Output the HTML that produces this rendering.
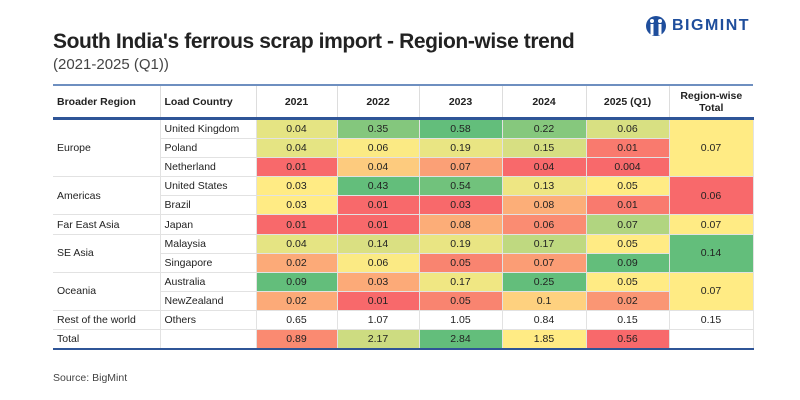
<!DOCTYPE html>
<html><head><meta charset="utf-8"><style>
body{margin:0;width:800px;height:400px;background:#fff;font-family:"Liberation Sans",sans-serif;position:relative;overflow:hidden}
#title{position:absolute;left:53px;top:30px;font-size:21px;font-weight:bold;color:#222;letter-spacing:-0.4px}
#sub{position:absolute;left:53px;top:56px;font-size:15px;color:#444}
#logo{position:absolute;left:645px;top:14px;height:24px;display:flex;align-items:center;color:#1f4e9c;font-weight:bold;font-size:16px;letter-spacing:1.5px}
table{position:absolute;left:53px;top:84px;border-collapse:collapse;font-size:10.5px;color:#222;table-layout:fixed;width:700px}
th{font-weight:bold;font-size:10.5px;height:31px;padding:0;border-top:2px solid #6e8fc0;border-bottom:3px solid #2f5597;border-left:1px solid #ddd}
th:first-child{border-left:none;text-align:left;padding-left:4px}
th.lc{text-align:left;padding-left:4px}
td{height:18.1px;padding:0;text-align:center;border:1px solid #e2e2e2}
td.l{text-align:left;padding-left:4px;border-left:none}
tr.last td{border-bottom:2px solid #2f5597}
#src{position:absolute;left:53px;top:372px;font-size:10.5px;color:#444}
</style></head><body>
<div id="title">South India's ferrous scrap import - Region-wise trend</div>
<div id="sub">(2021-2025 (Q1))</div>
<div id="logo"><svg width="22" height="24" viewBox="0 0 22 24"><circle cx="11" cy="12" r="10" fill="#1f4e9c"/><circle cx="7" cy="7" r="2" fill="#fff"/><circle cx="15" cy="7" r="2" fill="#fff"/><rect x="5.5" y="10" width="3" height="11" fill="#fff"/><rect x="13.5" y="10" width="3" height="11" fill="#fff"/></svg><span style="margin-left:5px">BIGMINT</span></div>
<table id="tbl">
<colgroup><col style="width:107px"><col style="width:96px"><col style="width:81px"><col style="width:82px"><col style="width:83px"><col style="width:84px"><col style="width:83px"><col style="width:84px"></colgroup>
<thead><tr><th>Broader Region</th><th class="lc">Load Country</th><th>2021</th><th>2022</th><th>2023</th><th>2024</th><th>2025 (Q1)</th><th>Region-wise<br>Total</th></tr></thead>
<tbody id="tb"></tbody></table>
<div id="src">Source: BigMint</div>
<script>
const regions=["Europe","Americas","Far East Asia","SE Asia","Oceania","Rest of the world"];
const regionSpans=[3,2,1,2,2,1];
const countries=["United Kingdom","Poland","Netherland","United States","Brazil","Japan","Malaysia","Singapore","Australia","NewZealand","Others"];
const y2021=["0.04","0.04","0.01","0.03","0.03","0.01","0.04","0.02","0.09","0.02","0.65"];
const y2022=["0.35","0.06","0.04","0.43","0.01","0.01","0.14","0.06","0.03","0.01","1.07"];
const y2023=["0.58","0.19","0.07","0.54","0.03","0.08","0.19","0.05","0.17","0.05","1.05"];
const y2024=["0.22","0.15","0.04","0.13","0.08","0.06","0.17","0.07","0.25","0.1","0.84"];
const y2025=["0.06","0.01","0.004","0.05","0.01","0.07","0.05","0.09","0.05","0.02","0.15"];
const regionTotals=["0.07","0.06","0.07","0.14","0.07","0.15"];
const totals=["0.89","2.17","2.84","1.85","0.56"];
const cols=[y2021,y2022,y2023,y2024,y2025];
const R=[248,105,107],Y=[255,235,132],G=[99,190,123];
function median(a){const s=a.slice().sort((x,y)=>x-y);const m=s.length>>1;return s.length%2?s[m]:(s[m-1]+s[m])/2;}
function scale(vals){const n=vals.map(Number),mn=Math.min(...n),mx=Math.max(...n),md=median(n);
 return n.map(v=>{let a,b,t;if(v<=md){a=R;b=Y;t=md>mn?(v-mn)/(md-mn):1}else{a=Y;b=G;t=mx>md?(v-md)/(mx-md):0}
 return 'rgb('+a.map((c,i)=>Math.round(c+(b[i]-c)*t)).join(',')+')';});}
const colColors=cols.map(c=>scale(c.slice(0,10)));
const rtColors=scale(regionTotals.slice(0,5));
const totColors=scale(totals);
const tb=document.getElementById('tb');
let ri=0,rowInReg=0;
for(let i=0;i<countries.length;i++){
 const tr=document.createElement('tr');
 
 
 if(rowInReg===0){const td=document.createElement('td');td.className='l';td.rowSpan=regionSpans[ri];td.textContent=regions[ri];
  
  
  tr.appendChild(td);}
 const c=document.createElement('td');c.className='l';c.textContent=countries[i];
 
 
 tr.appendChild(c);
 for(let j=0;j<5;j++){const td=document.createElement('td');td.textContent=cols[j][i];
  if(i<10)td.style.background=colColors[j][i];
  
  
  tr.appendChild(td);}
 if(rowInReg===0){const td=document.createElement('td');td.rowSpan=regionSpans[ri];td.textContent=regionTotals[ri];
  if(ri<5)td.style.background=rtColors[ri];
  
  
  tr.appendChild(td);}
 tb.appendChild(tr);
 rowInReg++;if(rowInReg>=regionSpans[ri]){ri++;rowInReg=0;}
}
const tr=document.createElement('tr');tr.className='last';


const a=document.createElement('td');a.className='l';a.textContent='Total';


tr.appendChild(a);
const b=document.createElement('td');


tr.appendChild(b);
for(let j=0;j<5;j++){const td=document.createElement('td');td.textContent=totals[j];td.style.background=totColors[j];
 
 
 tr.appendChild(td);}
const e=document.createElement('td');


tr.appendChild(e);
tb.appendChild(tr);
</script>
</body></html>
